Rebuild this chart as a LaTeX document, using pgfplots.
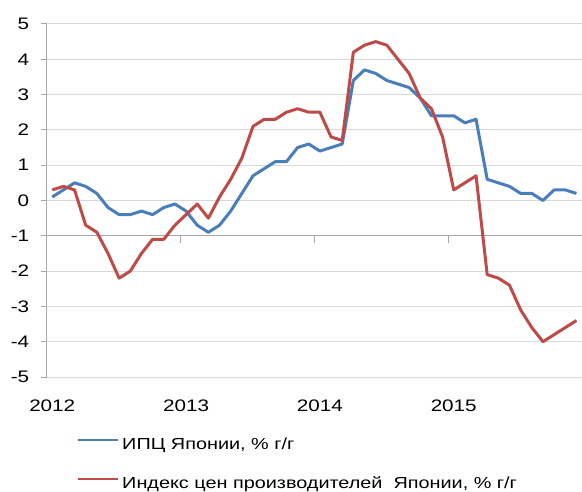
\documentclass[border=0pt]{standalone}
\usepackage{fontspec}
\setmainfont{Liberation Sans}[FakeStretch=1.24]
\usepackage{pgfplots}
\usepackage{pgfplotstable}
\pgfplotsset{compat=1.18}
\definecolor{cpiblue}{HTML}{4A7EBB}
\definecolor{ppired}{HTML}{BE4B48}
\definecolor{gridgray}{HTML}{D9D9D9}
\definecolor{axisgray}{HTML}{A6A6A6}
\pgfplotstableread{
x cpi ppi
0 0.1 0.3
1 0.3 0.4
2 0.5 0.3
3 0.4 -0.7
4 0.2 -0.9
5 -0.2 -1.5
6 -0.4 -2.2
7 -0.4 -2.0
8 -0.3 -1.5
9 -0.4 -1.1
10 -0.2 -1.1
11 -0.1 -0.7
12 -0.3 -0.4
13 -0.7 -0.1
14 -0.9 -0.5
15 -0.7 0.1
16 -0.3 0.6
17 0.2 1.2
18 0.7 2.1
19 0.9 2.3
20 1.1 2.3
21 1.1 2.5
22 1.5 2.6
23 1.6 2.5
24 1.4 2.5
25 1.5 1.8
26 1.6 1.7
27 3.4 4.2
28 3.7 4.4
29 3.6 4.5
30 3.4 4.4
31 3.3 4.0
32 3.2 3.6
33 2.9 2.9
34 2.4 2.6
35 2.4 1.8
36 2.4 0.3
37 2.2 0.5
38 2.3 0.7
39 0.6 -2.1
40 0.5 -2.2
41 0.4 -2.4
42 0.2 -3.1
43 0.2 -3.6
44 0.0 -4.0
45 0.3 -3.8
46 0.3 -3.6
47 0.2 -3.4
}\datatable
\begin{document}
\begin{tikzpicture}[font=\fontsize{12.5bp}{15bp}\selectfont]
\path[use as bounding box] (-35bp,-86.25bp) rectangle (401.5bp,282.75bp);
\begin{axis}[
  scale only axis, width=401.5bp, height=264.75bp,
  at={(0,0)}, anchor=south west,
  xmin=-0.5, xmax=47.5, ymin=-5, ymax=5,
  axis lines*=left, axis line style={-},
  x axis line style={draw=none},
  y axis line style={draw=axisgray, line width=0.75bp},
  xtick={0,12,24,36}, xticklabels={2012,2013,2014,2015},
  x tick style={draw=none},
  ytick={-5,-4,...,5},
  y tick style={draw=axisgray, line width=0.75bp},
  tick align=outside, major tick length=4.5bp,
  ymajorgrids, grid style={draw=gridgray, line width=0.75bp},
  /pgf/number format/assume math mode=true,
  ticklabel style={font=\fontsize{12.5bp}{15bp}\selectfont},
  yticklabel style={anchor=east, inner sep=0pt, xshift=-8.4bp},
  xticklabel style={anchor=north, inner sep=0pt, yshift=-12.6bp},
  legend style={at={(axis description cs:0.056,-0.171)}, anchor=north west,
    draw=none, fill=none, inner sep=0pt, row sep=17.65bp, column sep=2.5bp,
    nodes={inner sep=0pt, text height=9bp, text depth=2.6bp,
      font=\fontsize{12bp}{14.4bp}\selectfont}},
  legend cell align=left,
  legend image code/.code={\draw[#1, line width=1.5bp] (0bp,4.3bp) -- (30bp,4.3bp);},
]
\draw[axisgray, line width=0.75bp] (axis cs:-0.5,-1) -- (axis cs:47.5,-1);
\pgfplotsinvokeforeach{11.5,23.5,35.5}{
  \draw[axisgray, line width=0.75bp] (axis cs:#1,-1) -- ++(0pt,-5.25bp);
}
\addplot[cpiblue, line width=2.25bp, line join=round] table[x=x, y=cpi] {\datatable};
\addlegendentry{ИПЦ Японии, \% г/г}
\addplot[ppired, line width=2.25bp, line join=round] table[x=x, y=ppi] {\datatable};
\addlegendentry{Индекс цен производителей\ \ Японии, \% г/г}
\end{axis}
\end{tikzpicture}
\end{document}
